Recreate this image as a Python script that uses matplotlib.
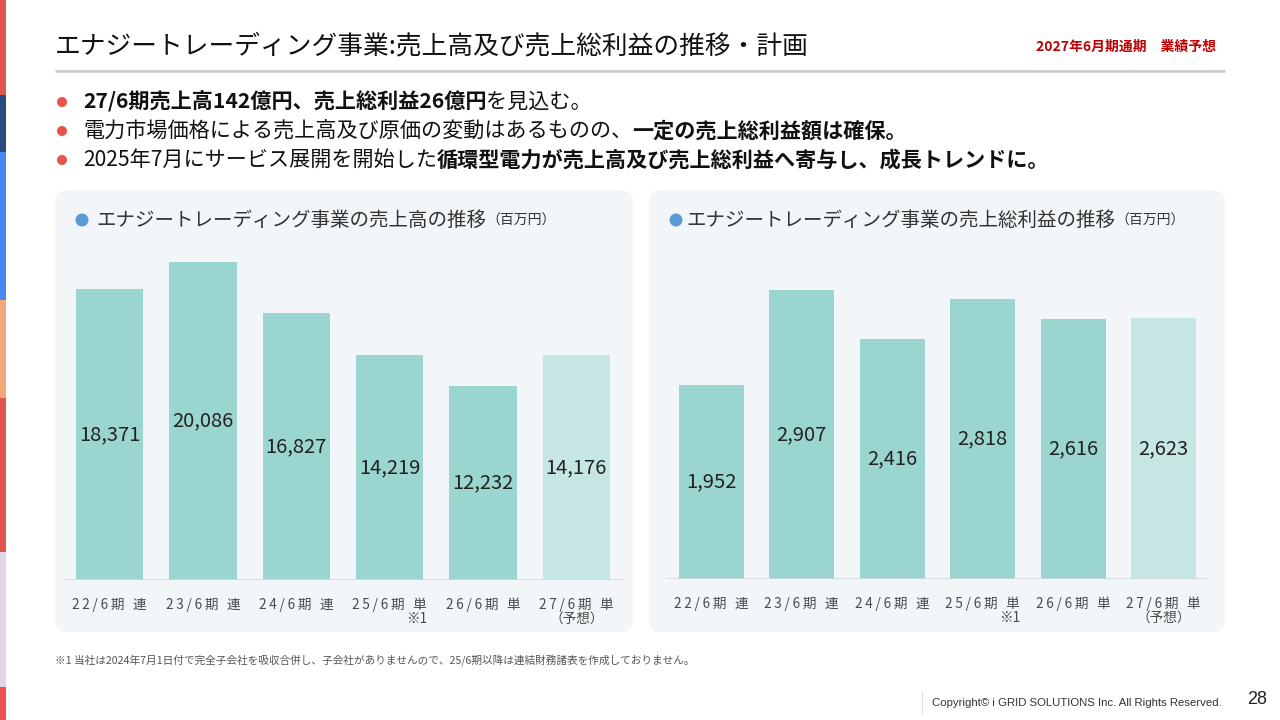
import matplotlib
matplotlib.use("Agg")
import matplotlib.pyplot as plt
from matplotlib.patches import FancyBboxPatch, Rectangle, Circle
from matplotlib.transforms import offset_copy

plt.rcParams['font.family'] = ['Noto Sans CJK JP', 'DejaVu Sans']

# data
periods = ['22/6期 連', '23/6期 連', '24/6期 連', '25/6期 単', '26/6期 単', '27/6期 単']
notes = ['', '', '', '※1', '', '（予想）']
sales = [18371, 20086, 16827, 14219, 12232, 14176]
gross = [1952, 2907, 2416, 2818, 2616, 2623]

title = 'エナジートレーディング事業:売上高及び売上総利益の推移・計画'
badge = '2027年6月期通期　業績予想'
bullets = [
    [('27/6期売上高142億円、売上総利益26億円', True), ('を見込む。', False)],
    [('電力市場価格による売上高及び原価の変動はあるものの、', False), ('一定の売上総利益額は確保。', True)],
    [('2025年7月にサービス展開を開始した', False), ('循環型電力が売上高及び売上総利益へ寄与し、成長トレンドに。', True)],
]
panel_titles = ['エナジートレーディング事業の売上高の推移', 'エナジートレーディング事業の売上総利益の推移']
footnote = '※1 当社は2024年7月1日付で完全子会社を吸収合併し、子会社がありませんので、25/6期以降は連結財務諸表を作成しておりません。'

BAR = '#9ad6cf'
BAR_LIGHT = '#c5e6e3'
PANEL = '#f2f6f9'
TICK = '#4a4a4a'
W, H = 1280, 720

fig = plt.figure(figsize=(12.8, 7.2), dpi=100)
fig.patch.set_facecolor('white')
renderer = fig.canvas.get_renderer()

# background axes in pixel coordinates (y goes down)
bg = fig.add_axes([0, 0, 1, 1])
bg.set_xlim(0, W)
bg.set_ylim(H, 0)
bg.axis('off')

# colour stripe on the left edge
stripe = [(0, 95, '#e05550'), (95, 152, '#2b4b82'), (152, 300, '#4a86f0'),
          (300, 398, '#f3a97c'), (398, 552, '#e05550'), (552, 687, '#e2d6e8'),
          (687, 720, '#ef5350')]
for y0, y1, c in stripe:
    bg.add_patch(Rectangle((0, y0), 6, y1 - y0, color=c, lw=0))

# title and rule
bg.text(55, 46, title, fontsize=18.5, color='#111111', va='center', ha='left')
bg.text(1216, 47, badge, fontsize=10, color='#c00000', fontweight='bold', va='center', ha='right')
bg.plot([55, 1225], [71, 71], color='#c8c8c8', lw=1.8, solid_capstyle='butt')

# bullets with mixed weights
for k, runs in enumerate(bullets):
    y = 102 + k * 29
    bg.add_patch(Circle((62, y), 5, color='#e8534a', lw=0))
    x = 83
    for txt, bold in runs:
        t = bg.text(x, y, txt, fontsize=15.2, fontweight='bold' if bold else 'normal',
                    color='#111111', va='center', ha='left')
        x += t.get_window_extent(renderer).width

# panels
panels = [(55, 190, 578, 442), (649, 190, 576, 442)]
for (px, py, pw, ph) in panels:
    bg.add_patch(FancyBboxPatch((px, py), pw, ph, boxstyle='round,pad=0,rounding_size=12',
                                fc=PANEL, ec='none', zorder=0))

# panel headings
heads = [(82, 96), (676, 686)]
for (dx, tx), txt in zip(heads, panel_titles):
    bg.add_patch(Circle((dx, 220), 6.5, color='#5b9bd5', lw=0))
    t = bg.text(tx, 220, txt, fontsize=14, color='#333333', va='center', ha='left')
    x = tx + t.get_window_extent(renderer).width
    bg.text(x, 221, '（百万円）', fontsize=10, color='#333333', va='center', ha='left')

# footnote and footer
bg.text(55, 661, footnote, fontsize=7.7, color='#555555', va='center', ha='left')
bg.plot([922, 922], [692, 713], color='#dddddd', lw=0.8)
bg.text(1222, 703, 'Copyright© i GRID SOLUTIONS Inc. All Rights Reserved.', fontsize=8.2,
        family='Liberation Sans', color='#333333', va='center', ha='right')
bg.text(1257, 700, '28', fontsize=13, family='Liberation Sans', color='#222222',
        va='center', ha='center')


def bar_panel(left, right, base, top, scale, values):
    ax = fig.add_axes([left / W, (H - base) / H, (right - left) / W, (base - top) / H])
    ax.set_facecolor('none')
    xs = list(range(len(values)))
    colors = [BAR] * (len(values) - 1) + [BAR_LIGHT]
    ax.bar(xs, values, width=0.72, color=colors, zorder=2)
    ax.set_xlim(-0.5, len(values) - 0.5)
    ax.set_ylim(0, (base - top) / scale)
    ax.axhline(0, color='#d3d8dc', lw=1.2, zorder=3)
    for s in ax.spines.values():
        s.set_visible(False)
    ax.set_xticks([])
    ax.set_yticks([])
    for i, v in enumerate(values):
        ax.text(i, v / 2, f'{v:,}', ha='center', va='center', fontsize=14.5, color='#222222', zorder=4)
    tr1 = offset_copy(ax.get_xaxis_transform(), fig=fig, x=0, y=-25, units='dots')
    tr2 = offset_copy(ax.get_xaxis_transform(), fig=fig, x=0, y=-39, units='dots')
    for i, (lab, note) in enumerate(zip(periods, notes)):
        # thin spaces give the letter spacing seen on the slide
        t = ax.text(i, 0, '\u2009'.join(lab), transform=tr1, ha='center', va='center',
                    fontsize=9.8, color=TICK, clip_on=False)
        if note == '※1':
            bb = t.get_window_extent(renderer)
            xr = ax.transData.inverted().transform((bb.x1, 0))[0]
            ax.text(xr, 0, note, transform=tr2, ha='right', va='center', fontsize=9.8,
                    color=TICK, clip_on=False)
        elif note:
            ax.text(i, 0, note, transform=tr2, ha='center', va='center', fontsize=9.8,
                    color=TICK, clip_on=False)
    return ax


bar_panel(63, 623, 580, 240, 291 / 18371, sales)
bar_panel(666, 1209, 579, 240, 194 / 1952, gross)

fig.savefig('out.png', dpi=100)
